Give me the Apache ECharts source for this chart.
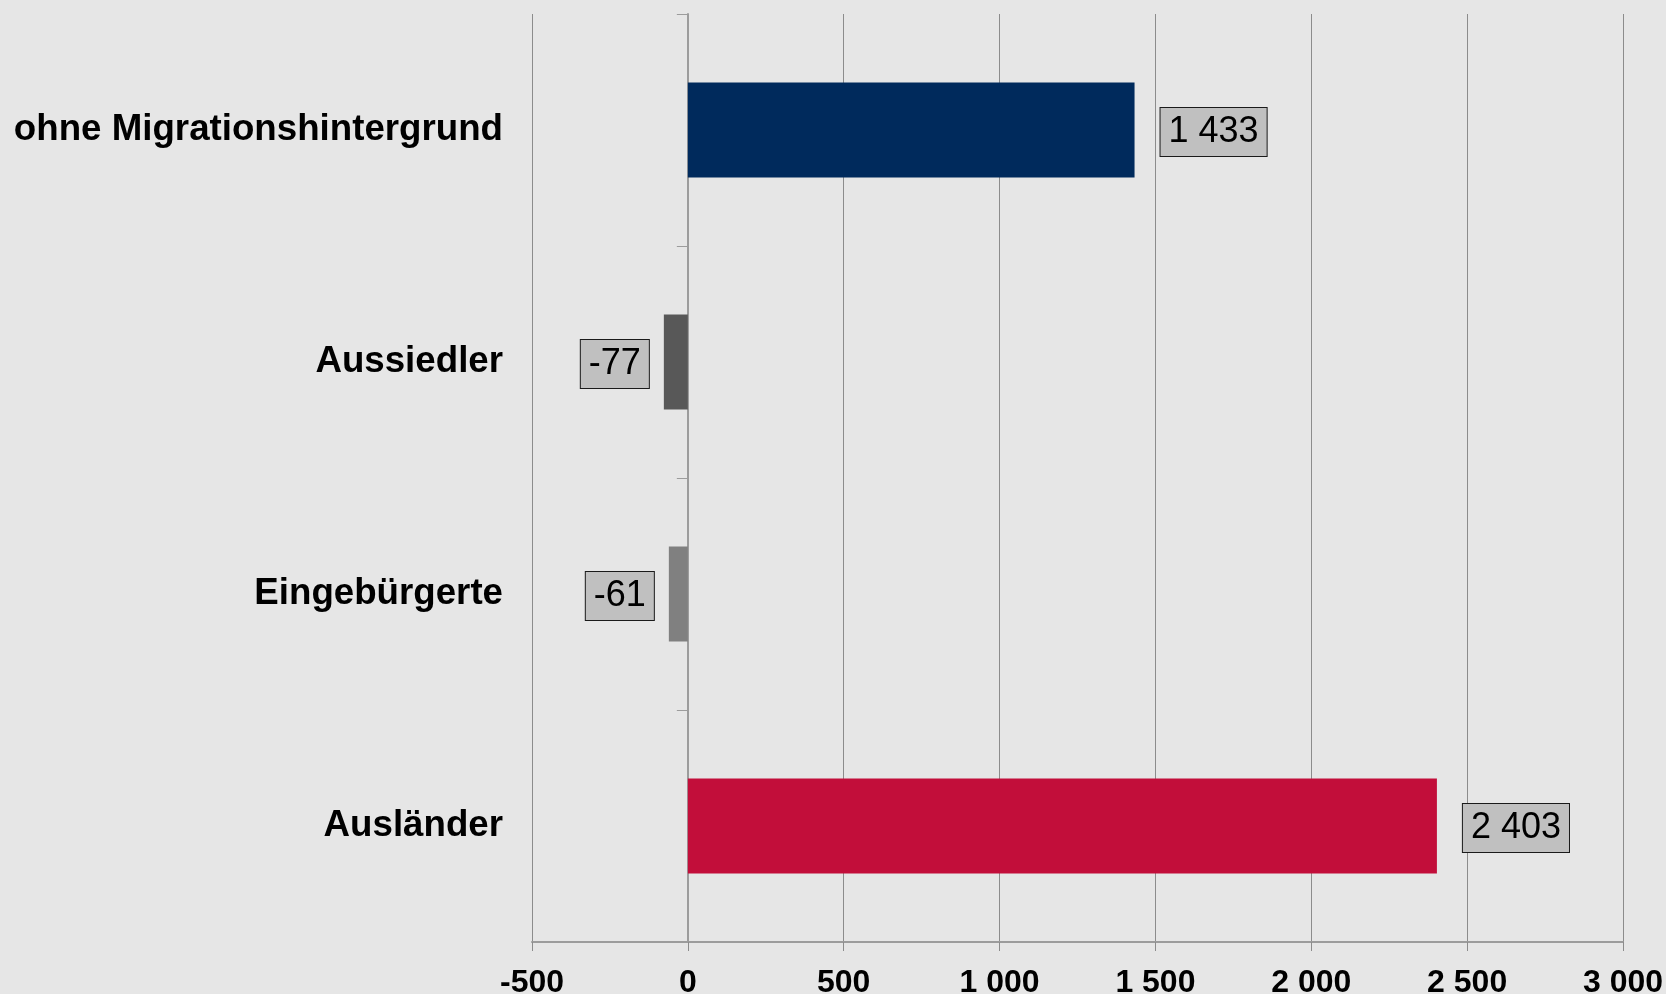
<!DOCTYPE html>
<html>
<head>
<meta charset="utf-8">
<script src="https://cdn.jsdelivr.net/npm/echarts@6/dist/echarts.min.js"></script>
<style>
  html, body { margin: 0; padding: 0; background: #e6e6e6; }
  #chart { width: 1666px; height: 994px; }
</style>
</head>
<body>
<div id="chart"></div>
<script>
  // Kategorien und Werte
  const categories = ['ohne Migrationshintergrund', 'Aussiedler', 'Eingebürgerte', 'Ausländer'];
  const values = [1433, -77, -61, 2403];
  const barColors = ['#002a5c', '#585858', '#808080', '#c20e3a'];
  // x-Achse
  const xMin = -500;
  const xMax = 3000;
  const xStep = 500;

  const fontFamily = '"Liberation Sans", Arial, sans-serif';
  const fmt = v => String(v).replace(/\B(?=(\d{3})+(?!\d))/g, ' ');

  const myChart = echarts.init(document.getElementById('chart'));

  const options = {
    backgroundColor: '#e6e6e6',
    animation: false,
    grid: {
      left: 532,
      right: 43,
      top: 14,
      bottom: 52,
      outerBoundsMode: 'none'
    },
    xAxis: {
      type: 'value',
      min: xMin,
      max: xMax,
      interval: xStep,
      axisLine: { show: true, onZero: false, lineStyle: { color: '#9c9c9c', width: 2 } },
      axisTick: { show: true, length: 9, lineStyle: { color: '#8c8c8c', width: 1 } },
      splitLine: { show: true, lineStyle: { color: '#8c8c8c', width: 1 } },
      axisLabel: {
        formatter: fmt,
        color: '#000',
        fontFamily: fontFamily,
        fontWeight: 'bold',
        fontSize: 32,
        margin: 25
      }
    },
    yAxis: [
      {
        // Beschriftung links
        type: 'category',
        inverse: true,
        data: categories,
        position: 'left',
        axisLine: { show: false, onZero: false },
        axisTick: { show: false },
        splitLine: { show: false },
        axisLabel: {
          color: '#000',
          fontFamily: fontFamily,
          fontWeight: 'bold',
          fontSize: 36.7,
          margin: 29,
          padding: [8, 0, 0, 0]
        }
      },
      {
        // Achsenlinie bei 0
        type: 'category',
        inverse: true,
        data: categories,
        position: 'left',
        axisLine: { show: true, onZero: true, onZeroAxisIndex: 0, lineStyle: { color: '#9c9c9c', width: 2 } },
        axisTick: { show: true, length: 11, lineStyle: { color: '#9c9c9c', width: 1 } },
        axisLabel: { show: false },
        splitLine: { show: false }
      }
    ],
    series: [
      {
        type: 'bar',
        yAxisIndex: 0,
        barCategoryGap: '59%',
        data: values.map((v, i) => ({
          value: v,
          itemStyle: { color: barColors[i] },
          label: { position: v < 0 ? 'left' : 'right', distance: v < 0 ? 15 : 26 }
        })),
        label: {
          show: true,
          formatter: p => fmt(p.value),
          color: '#000',
          fontFamily: fontFamily,
          fontSize: 36,
          lineHeight: 40,
          offset: [0, 2],
          backgroundColor: '#c0c0c0',
          borderColor: '#1a1a1a',
          borderWidth: 1,
          padding: [5, 8, 3, 8]
        }
      }
    ]
  };

  myChart.setOption(options);
</script>
</body>
</html>
